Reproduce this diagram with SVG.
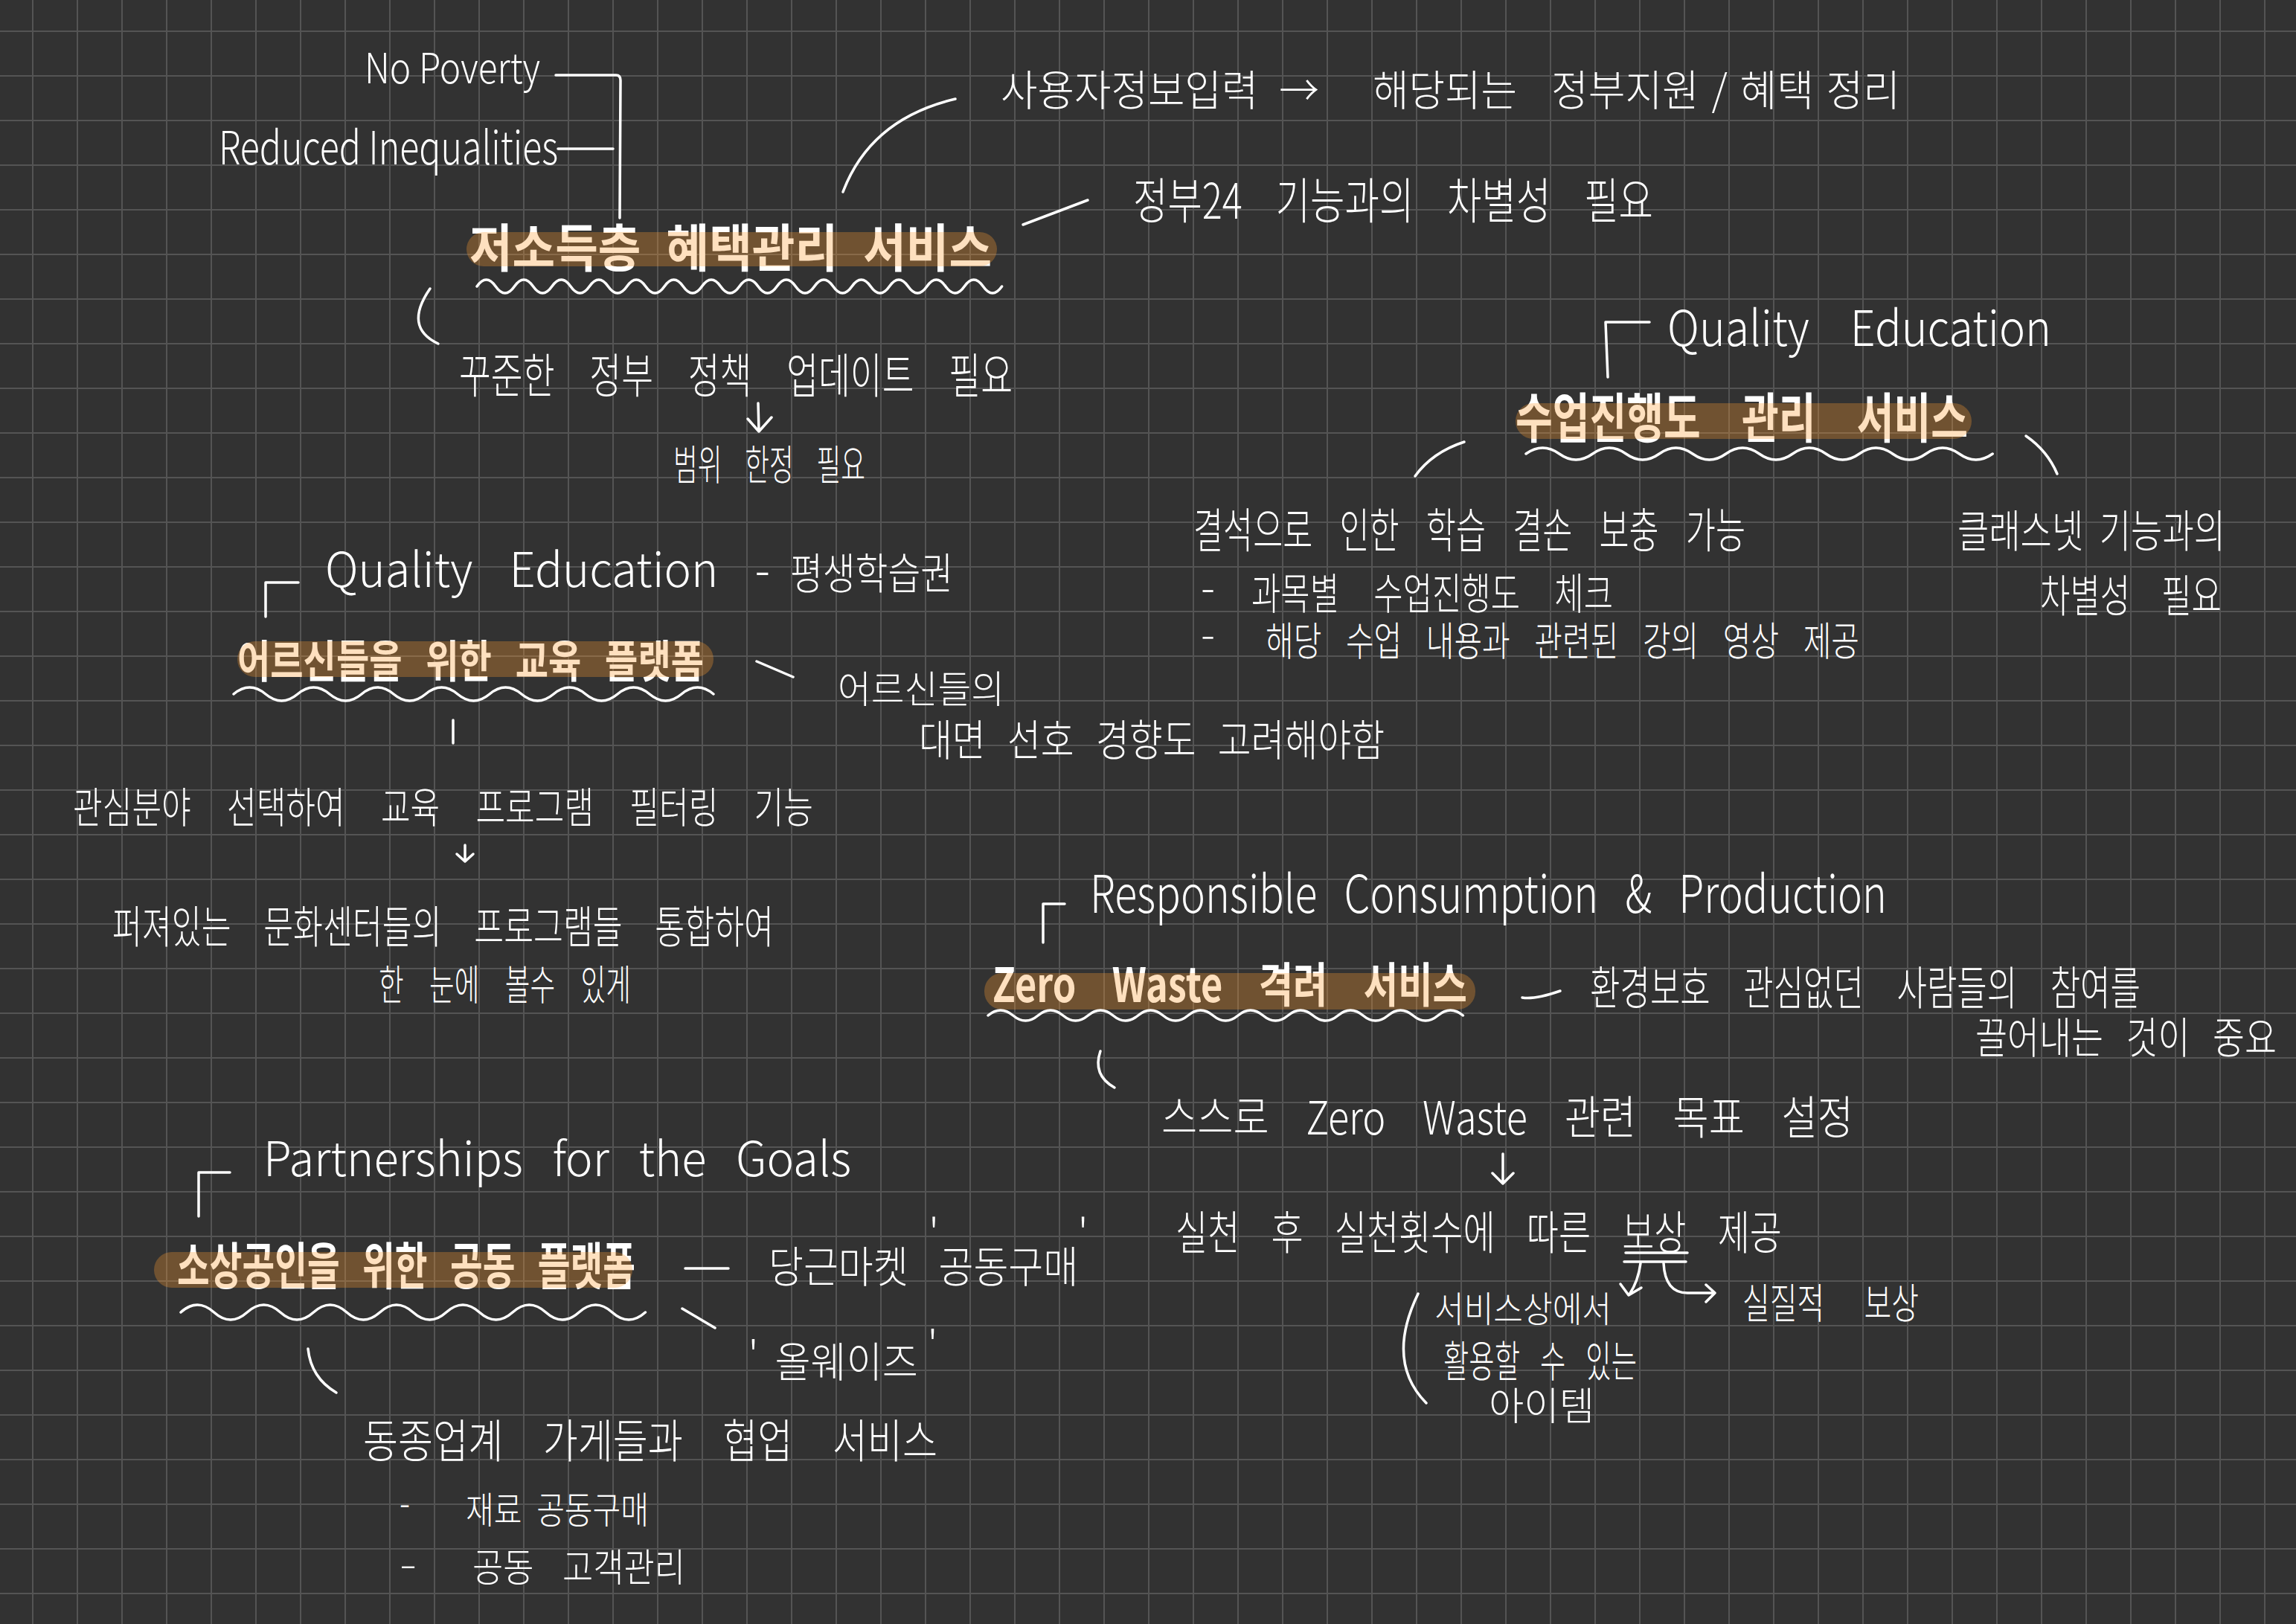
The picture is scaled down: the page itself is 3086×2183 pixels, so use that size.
<svg xmlns="http://www.w3.org/2000/svg" width="3086" height="2183" viewBox="0 0 3086 2183">
<style>
.t{font-family:"Noto Sans CJK KR","Noto Sans",sans-serif;fill:#fff;font-weight:300}
.b{font-weight:700}
.hl{fill:#fb9a30;fill-opacity:.31}
.ln{fill:none;stroke:#fff;stroke-width:3.5;stroke-linecap:round;stroke-linejoin:round}
</style>
<defs>
<pattern id="grid" x="43" y="41" width="60" height="60" patternUnits="userSpaceOnUse">
<rect width="60" height="2" fill="#545454"/><rect width="2" height="60" fill="#545454"/>
</pattern>
</defs>
<rect width="3086" height="2183" fill="#323232"/>
<rect width="3086" height="2183" fill="url(#grid)"/>

<g id="connectors">
<path class="ln" d="M747,101 L828,101 Q834,101 834,108 L833,293"/>
<path class="ln" d="M750,200 L824,200"/>
<path class="ln" d="M578,388 Q542,440 589,462"/>
<path class="ln" d="M1133,258 Q1170,160 1284,133"/>
<path class="ln" d="M1375,302 L1462,269"/>
<path class="ln" d="M1019,542 L1020,580 M1005,563 L1020,580 L1037,561"/>
<path class="ln" d="M2161,507 L2158,433 L2217,433"/>
<path class="ln" d="M1968,594 Q1925,608 1902,640"/>
<path class="ln" d="M2723,586 Q2752,606 2765,637"/>
<path class="ln" d="M357,829 L357,783 L401,783"/>
<path class="ln" d="M1017,889 L1066,910"/>
<path class="ln" d="M609,968 L609,999"/>
<path class="ln" d="M625,1136 L625,1158 M614,1148 L625,1158 L636,1148"/>
<path class="ln" d="M1402,1267 L1402,1215 L1431,1215"/>
<path class="ln" d="M2046,1341 Q2062,1344 2097,1332"/>
<path class="ln" d="M1479,1413 Q1468,1445 1498,1462"/>
<path class="ln" d="M2020,1551 L2020,1591 M2006,1577 L2020,1591 L2034,1577"/>
<path class="ln" d="M2185,1684 L2268,1684 M2183,1696 L2266,1696"/>
<path class="ln" d="M2205,1698 Q2202,1722 2190,1740 M2178,1726 L2189,1741 L2206,1731"/>
<path class="ln" d="M2236,1698 Q2238,1738 2268,1738 L2305,1738 M2293,1727 L2305,1738 L2293,1750"/>
<path class="ln" d="M1906,1739 Q1862,1830 1917,1886"/>
<path class="ln" d="M267,1635 L267,1576 L309,1576"/>
<path class="ln" d="M921,1705 L979,1705"/>
<path class="ln" d="M917,1759 L961,1785"/>
<path class="ln" d="M414,1813 Q418,1852 452,1872"/>
</g>

<g id="sdg-no-poverty"><text class="t" x="490" y="112" font-size="56" textLength="236" lengthAdjust="spacingAndGlyphs">No Poverty</text></g>
<g id="sdg-reduced-inequalities"><text class="t" x="294" y="221" font-size="62" textLength="456" lengthAdjust="spacingAndGlyphs">Reduced Inequalities</text></g>

<g id="node-low-income">
<text class="t b" x="631" y="359" font-size="69" word-spacing="22" textLength="702" lengthAdjust="spacingAndGlyphs">저소득층 혜택관리 서비스</text>
<rect class="hl" x="627" y="312" width="713" height="46" rx="23"/>
<path class="ln" d="M641,385 q12.6,-18 25.2,0 t25.2,0 t25.2,0 t25.2,0 t25.2,0 t25.2,0 t25.2,0 t25.2,0 t25.2,0 t25.2,0 t25.2,0 t25.2,0 t25.2,0 t25.2,0 t25.2,0 t25.2,0 t25.2,0 t25.2,0 t25.2,0 t25.2,0 t25.2,0 t25.2,0 t25.2,0 t25.2,0 t25.2,0 t25.2,0 t25.2,0 t25.2,0"/>
</g>

<g id="note-user-info">
<text class="t" x="1345" y="142" font-size="57" word-spacing="17" textLength="428" lengthAdjust="spacingAndGlyphs">사용자정보입력 →</text>
<text class="t" x="1845" y="142" font-size="57" textLength="194" lengthAdjust="spacingAndGlyphs">해당되는</text>
<text class="t" x="2085" y="142" font-size="57" word-spacing="5" textLength="469" lengthAdjust="spacingAndGlyphs">정부지원 / 혜택 정리</text>
</g>
<g id="note-gov24"><text class="t" x="1523" y="294" font-size="66" word-spacing="44" textLength="699" lengthAdjust="spacingAndGlyphs">정부24 기능과의 차별성 필요</text></g>
<g id="note-policy-update"><text class="t" x="617" y="528" font-size="64" word-spacing="50" textLength="744" lengthAdjust="spacingAndGlyphs">꾸준한 정부 정책 업데이트 필요</text></g>
<g id="note-scope"><text class="t" x="905" y="645" font-size="56" word-spacing="36" textLength="258" lengthAdjust="spacingAndGlyphs">범위 한정 필요</text></g>

<g id="sdg-quality-education-1"><text class="t" x="2241" y="465" font-size="66" word-spacing="47" textLength="516" lengthAdjust="spacingAndGlyphs">Quality Education</text></g>
<g id="node-class-progress">
<text class="t b" x="2037" y="588" font-size="72" word-spacing="57" textLength="608" lengthAdjust="spacingAndGlyphs">수업진행도 관리 서비스</text>
<rect class="hl" x="2037" y="542" width="613" height="48" rx="24"/>
<path class="ln" d="M2051,610 q22.4,-16 44.8,0 t44.8,0 t44.8,0 t44.8,0 t44.8,0 t44.8,0 t44.8,0 t44.8,0 t44.8,0 t44.8,0 t44.8,0 t44.8,0 t44.8,0 t44.8,0"/>
</g>
<g id="note-absence">
<text class="t" x="1604" y="736" font-size="64" word-spacing="39" textLength="742" lengthAdjust="spacingAndGlyphs">결석으로 인한 학습 결손 보충 가능</text>
<text class="t" x="1614" y="811" font-size="58" textLength="19" lengthAdjust="spacingAndGlyphs">-</text>
<text class="t" x="1682" y="819" font-size="58" word-spacing="50" textLength="486" lengthAdjust="spacingAndGlyphs">과목별 수업진행도 체크</text>
<text class="t" x="1614" y="872" font-size="54" textLength="19" lengthAdjust="spacingAndGlyphs">-</text>
<text class="t" x="1701" y="882" font-size="54" word-spacing="31" textLength="798" lengthAdjust="spacingAndGlyphs">해당 수업 내용과 관련된 강의 영상 제공</text>
</g>
<g id="note-classnet">
<text class="t" x="2631" y="736" font-size="60" word-spacing="15" textLength="360" lengthAdjust="spacingAndGlyphs">클래스넷 기능과의</text>
<text class="t" x="2742" y="823" font-size="60" word-spacing="44" textLength="244" lengthAdjust="spacingAndGlyphs">차별성 필요</text>
</g>

<g id="sdg-quality-education-2">
<text class="t" x="437" y="789" font-size="64" word-spacing="37" textLength="598" lengthAdjust="spacingAndGlyphs">Quality Education -</text>
<text class="t" x="1062" y="792" font-size="58" textLength="219" lengthAdjust="spacingAndGlyphs">평생학습권</text>
</g>
<g id="node-elder-education">
<text class="t b" x="319" y="911" font-size="60" word-spacing="26" textLength="627" lengthAdjust="spacingAndGlyphs">어르신들을 위한 교육 플랫폼</text>
<rect class="hl" x="319" y="862" width="640" height="48" rx="24"/>
<path class="ln" d="M314,933 q21.5,-18 43,0 t43,0 t43,0 t43,0 t43,0 t43,0 t43,0 t43,0 t43,0 t43,0 t43,0 t43,0 t43,0 t43,0 t43,0"/>
</g>
<g id="note-elder-preference">
<text class="t" x="1126" y="945" font-size="51" textLength="224" lengthAdjust="spacingAndGlyphs">어르신들의</text>
<text class="t" x="1235" y="1016" font-size="58" word-spacing="22" textLength="626" lengthAdjust="spacingAndGlyphs">대면 선호 경향도 고려해야함</text>
</g>
<g id="note-filter"><text class="t" x="98" y="1106" font-size="57" word-spacing="51" textLength="995" lengthAdjust="spacingAndGlyphs">관심분야 선택하여 교육 프로그램 필터링 기능</text></g>
<g id="note-integrate">
<text class="t" x="151" y="1268" font-size="60" word-spacing="47" textLength="889" lengthAdjust="spacingAndGlyphs">퍼져있는 문화센터들의 프로그램들 통합하여</text>
<text class="t" x="509" y="1344" font-size="56" word-spacing="40" textLength="339" lengthAdjust="spacingAndGlyphs">한 눈에 볼수 있게</text>
</g>

<g id="sdg-responsible-consumption"><text class="t" x="1465" y="1227" font-size="70" word-spacing="30" textLength="1071" lengthAdjust="spacingAndGlyphs">Responsible Consumption &amp; Production</text></g>
<g id="node-zero-waste">
<text class="t b" x="1334" y="1347" font-size="64" word-spacing="47" textLength="638" lengthAdjust="spacingAndGlyphs">Zero Waste 격려 서비스</text>
<rect class="hl" x="1323" y="1308" width="660" height="49" rx="24"/>
<path class="ln" d="M1328,1365 q16.8,-14 33.6,0 t33.6,0 t33.6,0 t33.6,0 t33.6,0 t33.6,0 t33.6,0 t33.6,0 t33.6,0 t33.6,0 t33.6,0 t33.6,0 t33.6,0 t33.6,0 t33.6,0 t33.6,0 t33.6,0 t33.6,0 t33.6,0"/>
</g>
<g id="note-environment">
<text class="t" x="2137" y="1351" font-size="62" word-spacing="49" textLength="740" lengthAdjust="spacingAndGlyphs">환경보호 관심없던 사람들의 참여를</text>
<text class="t" x="2655" y="1416" font-size="58" word-spacing="25" textLength="405" lengthAdjust="spacingAndGlyphs">끌어내는 것이 중요</text>
</g>
<g id="note-goal"><text class="t" x="1561" y="1525" font-size="62" word-spacing="45" textLength="930" lengthAdjust="spacingAndGlyphs">스스로 Zero Waste 관련 목표 설정</text></g>
<g id="note-reward"><text class="t" x="1580" y="1680" font-size="62" word-spacing="42" textLength="815" lengthAdjust="spacingAndGlyphs">실천 후 실천횟수에 따른 보상 제공</text></g>
<g id="note-real-reward"><text class="t" x="2342" y="1772" font-size="56" word-spacing="62" textLength="237" lengthAdjust="spacingAndGlyphs">실질적 보상</text></g>
<g id="note-item">
<text class="t" x="1928" y="1777" font-size="48" textLength="238" lengthAdjust="spacingAndGlyphs">서비스상에서</text>
<text class="t" x="1940" y="1851" font-size="58" word-spacing="29" textLength="260" lengthAdjust="spacingAndGlyphs">활용할 수 있는</text>
<text class="t" x="2001" y="1909" font-size="52" textLength="142" lengthAdjust="spacingAndGlyphs">아이템</text>
</g>

<g id="sdg-partnerships"><text class="t" x="354" y="1581" font-size="64" word-spacing="27" textLength="790" lengthAdjust="spacingAndGlyphs">Partnerships for the Goals</text></g>
<g id="node-small-business">
<text class="t b" x="238" y="1727" font-size="68" word-spacing="28" textLength="616" lengthAdjust="spacingAndGlyphs">소상공인을 위한 공동 플랫폼</text>
<rect class="hl" x="207" y="1683" width="643" height="48" rx="24"/>
<path class="ln" d="M243,1764 q22.3,-20 44.6,0 t44.6,0 t44.6,0 t44.6,0 t44.6,0 t44.6,0 t44.6,0 t44.6,0 t44.6,0 t44.6,0 t44.6,0 t44.6,0 t44.6,0 t44.6,0"/>
</g>
<g id="note-karrot"><text class="t" x="1033" y="1724" font-size="58" word-spacing="19" textLength="429" lengthAdjust="spacingAndGlyphs">당근마켓 <tspan dy="-44">'</tspan><tspan dy="44">공동구매</tspan><tspan dy="-44">'</tspan></text></g>
<g id="note-always"><text class="t" x="1006" y="1851" font-size="56" textLength="254" lengthAdjust="spacingAndGlyphs"><tspan dy="-8">'</tspan><tspan dy="8" dx="24">올웨이즈</tspan><tspan dy="-22" dx="14">'</tspan></text></g>
<g id="note-collab">
<text class="t" x="488" y="1960" font-size="62" word-spacing="51" textLength="772" lengthAdjust="spacingAndGlyphs">동종업계 가게들과 협업 서비스</text>
<text class="t" x="537" y="2038" font-size="48" textLength="14" lengthAdjust="spacingAndGlyphs">-</text>
<text class="t" x="626" y="2048" font-size="50" word-spacing="13" textLength="246" lengthAdjust="spacingAndGlyphs">재료 공동구매</text>
<text class="t" x="537" y="2120" font-size="48" textLength="23" lengthAdjust="spacingAndGlyphs">-</text>
<text class="t" x="635" y="2126" font-size="52" word-spacing="33" textLength="286" lengthAdjust="spacingAndGlyphs">공동 고객관리</text>
</g>
</svg>
